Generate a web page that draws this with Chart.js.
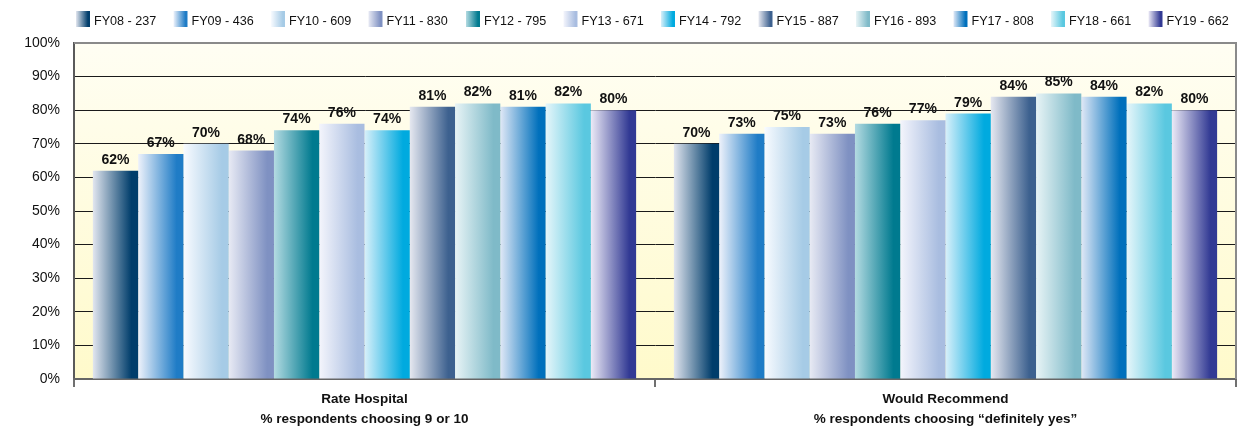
<!DOCTYPE html>
<html>
<head>
<meta charset="utf-8">
<script src="https://cdn.jsdelivr.net/npm/chart.js@4.4.1/dist/chart.umd.min.js"></script>
<style>
  html, body { margin: 0; padding: 0; background: #fff; }
  #grafico { display: block; }
</style>
</head>
<body>
<canvas id="grafico" width="1254" height="431"></canvas>
<script>
// categorias e series
var categorias = [
	["Rate Hospital", "% respondents choosing 9 or 10"],
	["Would Recommend", "% respondents choosing \u201cdefinitely yes\u201d"]
];
var anos = ["FY08 - 237", "FY09 - 436", "FY10 - 609", "FY11 - 830", "FY12 - 795", "FY13 - 671",
	"FY14 - 792", "FY15 - 887", "FY16 - 893", "FY17 - 808", "FY18 - 661", "FY19 - 662"];
var rateHospital = [62, 67, 70, 68, 74, 76, 74, 81, 82, 81, 82, 80];
var wouldRecommend = [70, 73, 75, 73, 76, 77, 79, 84, 85, 84, 82, 80];
var ticksY = [0, 10, 20, 30, 40, 50, 60, 70, 80, 90, 100];

// cor clara (esquerda) e escura (direita) de cada ano
var cores = [
	["#e2e6ef", "#003d6b"],
	["#eef2fb", "#1f7cc6"],
	["#f8fbff", "#a6cbe6"],
	["#e8eaf4", "#7f91c2"],
	["#b4dbe2", "#007a8f"],
	["#f4f5fc", "#a9bde0"],
	["#d8f0fa", "#00aadf"],
	["#e6e8f0", "#3d618f"],
	["#e8f4f6", "#7fbac8"],
	["#e0e8f6", "#0070bc"],
	["#e6f6fa", "#5ac8e0"],
	["#eceaf6", "#323a94"]
];

var CAT_PCT = 0.935;

function degrade(ctx, x0, x1, i) {
	var g = ctx.createLinearGradient(x0, 0, x1, 0);
	g.addColorStop(0, cores[i][0]);
	g.addColorStop(0.85, cores[i][1]);
	g.addColorStop(1, cores[i][1]);
	return g;
}

function corBarra(context) {
	var chart = context.chart;
	var xs = chart.scales.x;
	if (!xs || context.type !== "data") return cores[context.datasetIndex][1];
	var n = chart.data.datasets.length;
	var larguraCat = xs.width / chart.data.labels.length;
	var larguraGrupo = larguraCat * CAT_PCT;
	var larguraBarra = larguraGrupo / n;
	var esq = xs.getPixelForValue(context.dataIndex) - larguraGrupo / 2 + context.datasetIndex * larguraBarra;
	// na primeira passada a escala ainda não tem tamanho
	if (!isFinite(esq) || !isFinite(larguraBarra)) return cores[context.datasetIndex][1];
	return degrade(chart.ctx, esq, esq + larguraBarra, context.datasetIndex);
}

var datasets = anos.map(function (nome, i) {
	return {
		label: nome,
		data: [rateHospital[i], wouldRecommend[i]],
		backgroundColor: corBarra,
		borderWidth: 0,
		barPercentage: 1,
		categoryPercentage: CAT_PCT
	};
});

// fundo creme, borda, rótulos de valor e legenda
var fundoPlugin = {
	id: "fundo",
	beforeDraw: function (chart) {
		var ctx = chart.ctx;
		var a = chart.chartArea;
		var g = ctx.createLinearGradient(0, a.top, 0, a.bottom);
		g.addColorStop(0, "#fffef3");
		g.addColorStop(1, "#fffacb");
		ctx.save();
		ctx.fillStyle = g;
		ctx.fillRect(a.left, a.top, a.right - a.left, a.bottom - a.top);

		// rótulos acima das barras
		ctx.font = "bold 14px 'Liberation Sans', Arial, sans-serif";
		ctx.fillStyle = "#111";
		ctx.textAlign = "center";
		ctx.textBaseline = "alphabetic";
		chart.data.datasets.forEach(function (ds, i) {
			chart.getDatasetMeta(i).data.forEach(function (bar, j) {
				ctx.fillText(ds.data[j] + "%", bar.x, bar.y - 7);
			});
		});
		ctx.restore();
	},
	afterDraw: function (chart) {
		var ctx = chart.ctx;
		var a = chart.chartArea;
		ctx.save();
		ctx.strokeStyle = "#8a8a8a";
		ctx.lineWidth = 2;
		ctx.beginPath();
		ctx.moveTo(a.left, a.top);
		ctx.lineTo(a.right, a.top);
		ctx.lineTo(a.right, a.bottom);
		ctx.stroke();

		// legenda
		ctx.font = "12.6px 'Liberation Sans', Arial, sans-serif";
		ctx.textAlign = "left";
		ctx.textBaseline = "alphabetic";
		chart.data.datasets.forEach(function (ds, i) {
			var x = 76 + i * 97.5;
			ctx.fillStyle = degrade(ctx, x, x + 14, i);
			ctx.fillRect(x, 11, 14, 16);
			ctx.fillStyle = "#111";
			ctx.fillText(ds.label, x + 18, 24.5);
		});
		ctx.restore();
	}
};

new Chart(document.getElementById("grafico"), {
	type: "bar",
	data: {
		labels: categorias,
		datasets: datasets
	},
	plugins: [fundoPlugin],
	options: {
		responsive: false,
		animation: false,
		layout: {
			padding: { top: 43, left: 0, right: 18, bottom: 0 }
		},
		scales: {
			y: {
				min: 0,
				max: 100,
				afterBuildTicks: function (scale) {
					scale.ticks = ticksY.map(function (v) { return { value: v }; });
				},
				afterFit: function (scale) {
					scale.width = 74;
				},
				ticks: {
					padding: 14,
					color: "#111",
					font: { family: "'Liberation Sans', Arial, sans-serif", size: 14 },
					callback: function (v) { return v + "%"; }
				},
				grid: {
					drawTicks: false,
					lineWidth: 1,
					color: function (c) {
						return c.tick && c.tick.value === 100 ? "#8a8a8a" : "#1a1a1a";
					}
				},
				border: { color: "#5a5a5a", width: 2 }
			},
			x: {
				afterFit: function (scale) {
					scale.height = 52;
				},
				ticks: {
					padding: 2,
					color: "#111",
					font: { family: "'Liberation Sans', Arial, sans-serif", size: 13.5, weight: "bold", lineHeight: 1.48 }
				},
				grid: {
					offset: true,
					drawOnChartArea: false,
					tickLength: 8,
					lineWidth: 2,
					color: "#707070"
				},
				border: { color: "#666", width: 2 }
			}
		},
		plugins: {
			legend: { display: false },
			tooltip: { enabled: false }
		}
	}
});
</script>
</body>
</html>
